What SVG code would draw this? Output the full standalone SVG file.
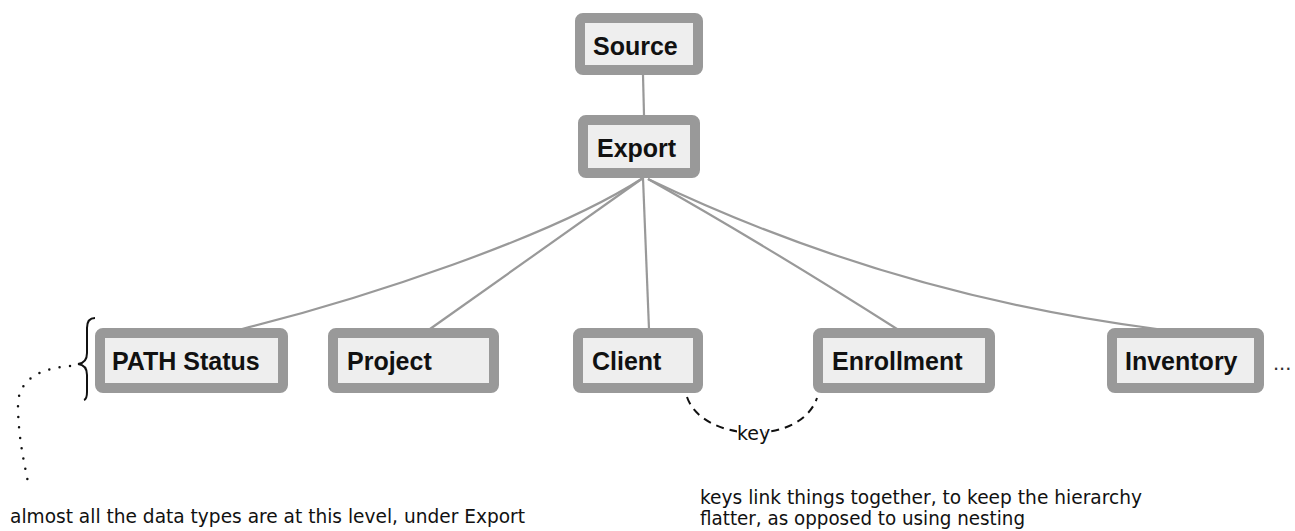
<svg xmlns="http://www.w3.org/2000/svg" width="1295" height="531" viewBox="0 0 1295 531">
<style>
.box{fill:#eeeeee;stroke:#999999;stroke-width:10}
.lbl{font-family:"Liberation Sans",Arial,sans-serif;font-weight:bold;font-size:25px;fill:#111111}
.edge{fill:none;stroke:#999999;stroke-width:2.2}
.note{font-family:"Comic Sans MS","DejaVu Sans",sans-serif;font-size:19px;fill:#111111}
</style>
<rect width="1295" height="531" fill="#ffffff"/>
<g id="connectors">
<line class="edge" x1="643" y1="75" x2="644" y2="115"/>
<path class="edge" d="M643,178 C550,238 362,299 242,329"/>
<path class="edge" d="M643,178 L430,329"/>
<path class="edge" d="M643,178 L649,329"/>
<path class="edge" d="M648,179 Q765,245 897,329"/>
<path class="edge" d="M648,179 Q890,295 1157,329"/>
</g>
<g id="node-source">
<rect class="box" x="580" y="18" width="118" height="52" rx="3"/>
<text class="lbl" x="593" y="55">Source</text>
</g>
<g id="node-export">
<rect class="box" x="583" y="120" width="112" height="53" rx="3"/>
<text class="lbl" x="597" y="157">Export</text>
</g>
<g id="node-path-status">
<rect class="box" x="100" y="333" width="183" height="55" rx="3"/>
<text class="lbl" x="112" y="370">PATH Status</text>
</g>
<g id="node-project">
<rect class="box" x="333" y="333" width="161" height="55" rx="3"/>
<text class="lbl" x="347" y="370">Project</text>
</g>
<g id="node-client">
<rect class="box" x="578" y="333" width="120" height="55" rx="3"/>
<text class="lbl" x="592" y="370">Client</text>
</g>
<g id="node-enrollment">
<rect class="box" x="818" y="333" width="172" height="55" rx="3"/>
<text class="lbl" x="832" y="370">Enrollment</text>
</g>
<g id="node-inventory">
<rect class="box" x="1112" y="333" width="147" height="55" rx="3"/>
<text class="lbl" x="1125" y="370">Inventory</text>
</g>
<text x="1273" y="370" font-family="'Liberation Sans',Arial,sans-serif" font-size="22" fill="#333333">...</text>
<g id="key-link">
<path d="M687,397 C702,442 800,447 817,398" fill="none" stroke="#111111" stroke-width="2" stroke-dasharray="8,6"/>
<rect x="737" y="421" width="28" height="24" fill="#ffffff"/>
<text class="note" x="737" y="440" font-size="18">key</text>
</g>
<g id="annotation-left">
<path d="M95,318 Q87,318 87,328 L87,353 Q87,363 78,364 Q87,365 87,375 L87,392 Q87,399 84,400" fill="none" stroke="#111111" stroke-width="2"/>
<path d="M70,366 C40,368 18,380 18,405 C18,440 26,470 29,488" fill="none" stroke="#111111" stroke-width="2.5" stroke-linecap="round" stroke-dasharray="0,10.5"/>
<text class="note" x="10" y="523" textLength="515" lengthAdjust="spacingAndGlyphs">almost all the data types are at this level, under Export</text>
</g>
<g id="annotation-right">
<text class="note" x="700" y="504" textLength="442" lengthAdjust="spacingAndGlyphs">keys link things together, to keep the hierarchy</text>
<text class="note" x="700" y="525" textLength="325" lengthAdjust="spacingAndGlyphs">flatter, as opposed to using nesting</text>
</g>
</svg>
